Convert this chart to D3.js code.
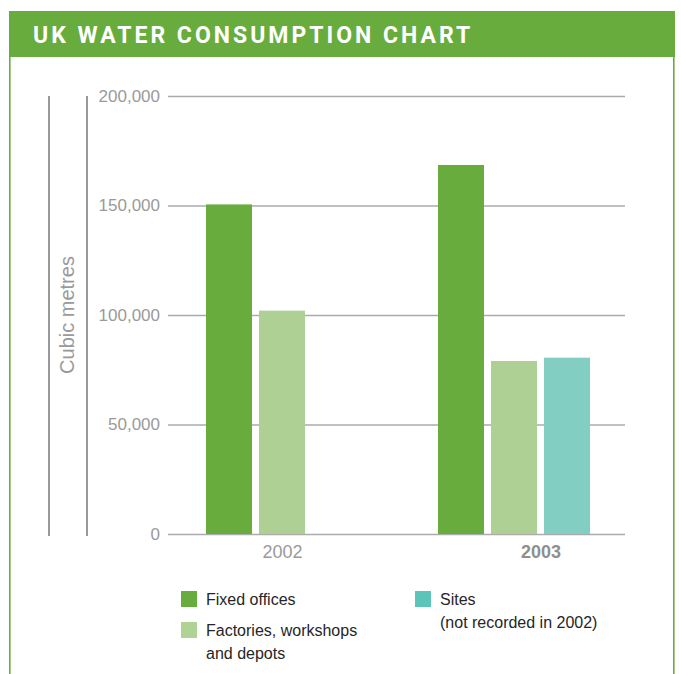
<!DOCTYPE html>
<html>
<head>
<meta charset="utf-8">
<script src="https://cdn.jsdelivr.net/npm/d3@7"></script>
<style>
  html, body { margin: 0; padding: 0; background: #fff; }
  svg { display: block; }
</style>
</head>
<body>
<div id="chart"></div>
<script>
// chart data
const years = ["2002", "2003"];
const seriesNames = ["Fixed offices", "Factories, workshops and depots", "Sites"];
const fixedOffices = [150500, 168500];
const factories = [102000, 79000];
const sites = [null, 80500]; // not recorded in 2002
const yTicks = [0, 50000, 100000, 150000, 200000];

const barColors = ["#68ac3d", "#afd095", "#82cec2"];
const legendColors = ["#68ac3d", "#afd395", "#5cc4b8"];

const W = 681, H = 674;
const font = "'Liberation Sans', Arial, Helvetica, sans-serif";

const svg = d3.select("#chart").append("svg")
  .attr("width", W)
  .attr("height", H);

// frame + header band
const green = "#68ac3d";
svg.append("rect")
  .attr("x", 9).attr("y", 11)
  .attr("width", 666).attr("height", 46)
  .attr("fill", green);
svg.append("line")
  .attr("x1", 9.8).attr("x2", 9.8).attr("y1", 57).attr("y2", H)
  .attr("stroke", green).attr("stroke-width", 1.6);
svg.append("line")
  .attr("x1", 673.8).attr("x2", 673.8).attr("y1", 57).attr("y2", H)
  .attr("stroke", green).attr("stroke-width", 1.6);

svg.append("text")
  .attr("x", 33).attr("y", 43)
  .attr("fill", "#fff")
  .style("font-family", "Roboto, 'Liberation Sans', sans-serif")
  .style("font-weight", "bold")
  .style("font-size", "23px")
  .style("letter-spacing", "3px")
  .text("UK WATER CONSUMPTION CHART");

// scales
const yScale = d3.scaleLinear().domain([0, 200000]).range([534, 96]);

const x0 = d3.scaleBand()
  .domain(years)
  .range([206, 590])
  .paddingInner(80 / 232)
  .paddingOuter(0);

const x1 = d3.scaleBand()
  .domain(seriesNames)
  .range([0, x0.bandwidth()])
  .paddingInner(7 / 53)
  .paddingOuter(0);

// gridlines + y tick labels
const yAxis = svg.append("g")
  .attr("transform", "translate(168,0)")
  .call(d3.axisLeft(yScale)
    .tickValues(yTicks)
    .tickSize(-457)
    .tickPadding(8)
    .tickFormat(d3.format(",")));
yAxis.select(".domain").remove();
yAxis.selectAll(".tick line")
  .attr("stroke", "#ababab")
  .attr("stroke-width", 1.5);
yAxis.selectAll(".tick text")
  .attr("fill", "#9a9a9a")
  .style("font-family", font)
  .style("font-size", "17px");

// vertical rules left of the axis
[49, 87].forEach(x => {
  svg.append("line")
    .attr("x1", x).attr("x2", x)
    .attr("y1", yScale(200000)).attr("y2", yScale(0) + 2)
    .attr("stroke", "#9a9a9a").attr("stroke-width", 2);
});

svg.append("text")
  .attr("transform", `translate(74, ${(yScale(0) + yScale(200000)) / 2}) rotate(-90)`)
  .attr("text-anchor", "middle")
  .attr("fill", "#9a9a9a")
  .style("font-family", font)
  .style("font-size", "20px")
  .text("Cubic metres");

// bars
const table = years.map((year, i) => ({
  year,
  values: [fixedOffices[i], factories[i], sites[i]]
}));

const groups = svg.append("g").selectAll("g")
  .data(table)
  .join("g")
  .attr("transform", d => `translate(${x0(d.year)},0)`);

groups.selectAll("rect")
  .data(d => d.values.map((v, j) => ({ name: seriesNames[j], value: v, j })).filter(d => d.value != null))
  .join("rect")
  .attr("x", d => x1(d.name))
  .attr("width", x1.bandwidth())
  .attr("y", d => yScale(d.value))
  .attr("height", d => yScale(0) - yScale(d.value))
  .attr("fill", d => barColors[d.j]);

// year labels, centred a bit right of the drawn bars
table.forEach((d, i) => {
  const present = d.values.filter(v => v != null).length;
  const cx = x0(d.year) + (present * x1.step() - (x1.step() - x1.bandwidth())) / 2 + 27;
  svg.append("text")
    .attr("x", cx).attr("y", 558)
    .attr("text-anchor", "middle")
    .attr("fill", i === 1 ? "#8f8f8f" : "#9a9a9a")
    .style("font-family", font)
    .style("font-size", "18px")
    .style("font-weight", i === 1 ? "bold" : "normal")
    .text(d.year);
});

// legend
const legendItems = [
  { x: 181, y: 591, lines: ["Fixed offices"] },
  { x: 181, y: 622, lines: ["Factories, workshops", "and depots"] },
  { x: 415, y: 591, lines: ["Sites", "(not recorded in 2002)"] }
];

legendItems.forEach((item, i) => {
  const g = svg.append("g").attr("transform", `translate(${item.x},${item.y})`);
  g.append("rect")
    .attr("width", 16).attr("height", 16)
    .attr("fill", legendColors[i]);
  item.lines.forEach((t, k) => {
    g.append("text")
      .attr("x", 25).attr("y", 14 + k * 23)
      .attr("fill", "#262626")
      .style("font-family", font)
      .style("font-size", "16px")
      .text(t);
  });
});
</script>
</body>
</html>
